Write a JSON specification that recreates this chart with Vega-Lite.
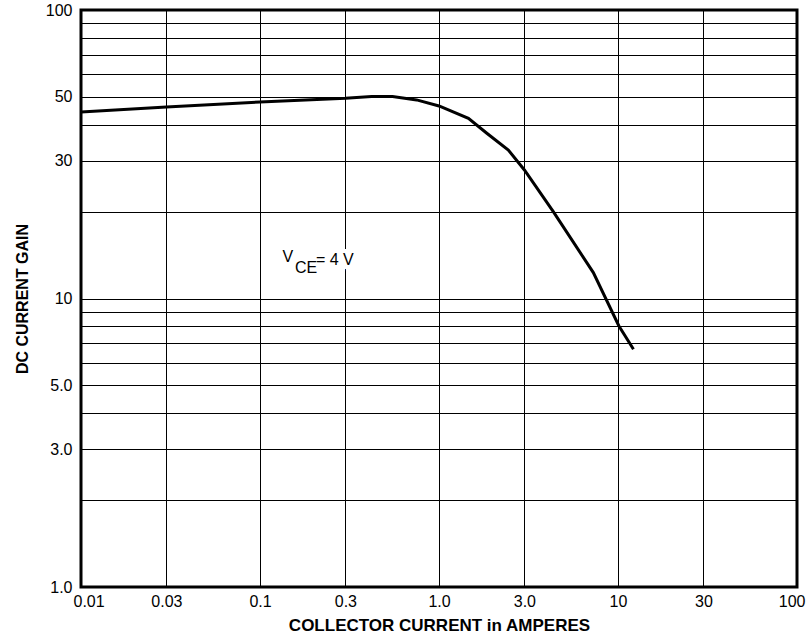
{
  "$schema": "https://vega.github.io/schema/vega-lite/v6.json",
  "width": 716,
  "height": 577,
  "autosize": {"type": "none"},
  "padding": {"left": 81, "top": 10, "right": 14, "bottom": 53},
  "background": "white",
  "config": {
    "font": "Liberation Sans",
    "view": {"stroke": "black", "strokeWidth": 3},
    "axis": {
      "domain": false,
      "ticks": false,
      "grid": true,
      "gridColor": "black",
      "gridOpacity": 1,
      "gridWidth": 1,
      "labelFont": "Liberation Sans",
      "labelFontSize": 16,
      "labelColor": "black",
      "titleFont": "Liberation Sans",
      "titleFontWeight": "bold",
      "titleColor": "black"
    }
  },
  "datasets": {
    "curve": [
      {"ic": 0.01, "hfe": 44.3},
      {"ic": 0.03, "hfe": 46.1},
      {"ic": 0.1, "hfe": 48.0},
      {"ic": 0.3, "hfe": 49.4},
      {"ic": 0.42, "hfe": 50.1},
      {"ic": 0.55, "hfe": 50.1},
      {"ic": 0.75, "hfe": 48.8},
      {"ic": 1.0, "hfe": 46.5},
      {"ic": 1.46, "hfe": 42.1},
      {"ic": 1.85, "hfe": 37.4},
      {"ic": 2.44, "hfe": 32.7},
      {"ic": 3.0, "hfe": 27.9},
      {"ic": 4.35, "hfe": 20.0},
      {"ic": 7.28, "hfe": 12.3},
      {"ic": 10.1, "hfe": 8.05},
      {"ic": 12.2, "hfe": 6.67}
    ],
    "notes": [
      {"ic": 0.143, "hfe": 13.9, "txt": "V"},
      {"ic": 0.181, "hfe": 12.8, "txt": "CE"},
      {"ic": 0.262, "hfe": 13.6, "txt": "= 4 V"}
    ]
  },
  "layer": [
    {
      "data": {"name": "curve"},
      "mark": {"type": "line", "color": "black", "strokeWidth": 3, "clip": true},
      "encoding": {
        "x": {
          "field": "ic", "type": "quantitative",
          "scale": {"type": "log", "domain": [0.01, 100], "nice": false},
          "axis": {
            "values": [0.01, 0.03, 0.1, 0.3, 1, 3, 10, 30, 100],
            "labelExpr": "datum.value == 1 ? '1.0' : datum.value == 3 ? '3.0' : datum.value + ''",
            "labelPadding": 6,
            "labelOverlap": false,
            "labelBound": false,
            "labelFlush": true,
            "labelFlushOffset": 8,
            "title": "COLLECTOR CURRENT in AMPERES",
            "titleFontSize": 17,
            "titlePadding": 8
          }
        },
        "y": {
          "field": "hfe", "type": "quantitative",
          "scale": {"type": "log", "domain": [1, 100], "nice": false},
          "axis": {
            "values": [1, 2, 3, 4, 5, 6, 7, 8, 9, 10, 20, 30, 40, 50, 60, 70, 80, 90, 100],
            "labelExpr": "datum.value == 1 ? '1.0' : datum.value == 3 ? '3.0' : datum.value == 5 ? '5.0' : (datum.value == 10 || datum.value == 30 || datum.value == 50 || datum.value == 100) ? datum.value + '' : ''",
            "labelPadding": 9,
            "labelOverlap": false,
            "labelBound": false,
            "title": "DC CURRENT GAIN",
            "titleFontSize": 16,
            "titlePadding": 15
          }
        }
      }
    },
    {
      "data": {"name": "notes"},
      "mark": {"type": "text", "stroke": "white", "strokeWidth": 8, "fill": "black", "fontSize": 16, "baseline": "middle", "align": "center"},
      "encoding": {
        "x": {"field": "ic", "type": "quantitative"},
        "y": {"field": "hfe", "type": "quantitative"},
        "text": {"field": "txt"}
      }
    },
    {
      "data": {"name": "notes"},
      "mark": {"type": "text", "fill": "black", "fontSize": 16, "baseline": "middle", "align": "center"},
      "encoding": {
        "x": {"field": "ic", "type": "quantitative"},
        "y": {"field": "hfe", "type": "quantitative"},
        "text": {"field": "txt"}
      }
    }
  ]
}
